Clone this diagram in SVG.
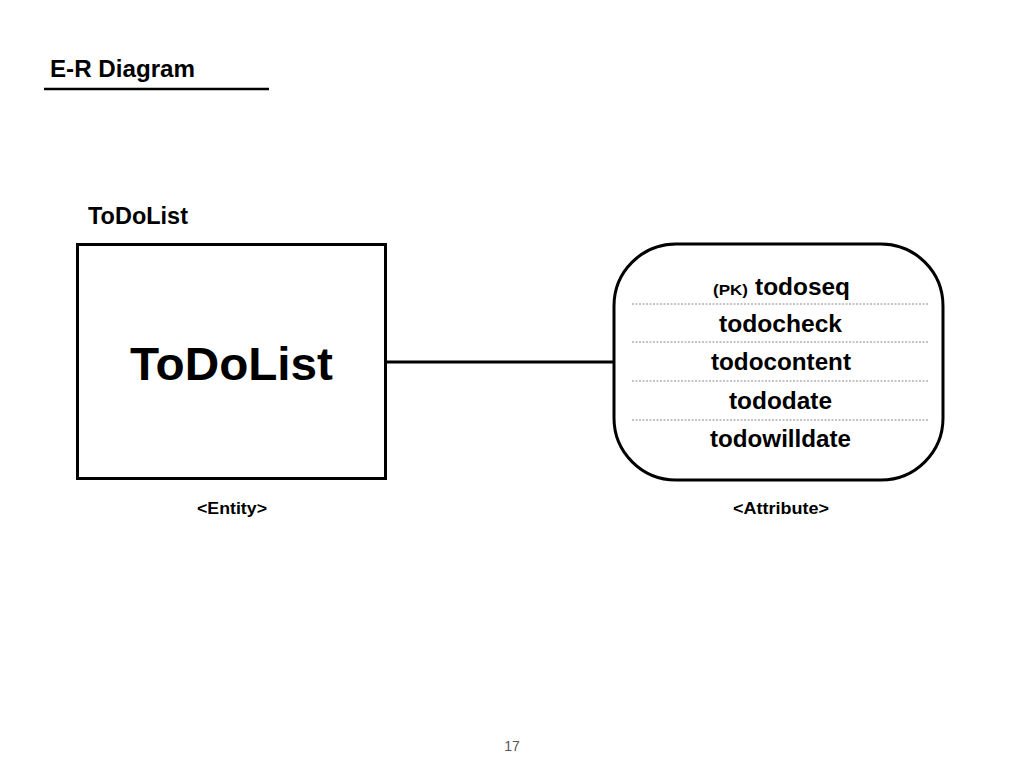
<svg xmlns="http://www.w3.org/2000/svg" width="1024" height="768" viewBox="0 0 1024 768">
<style>
text{font-family:"Liberation Sans",Arial,sans-serif;font-weight:bold;fill:#000}
.attr{font-size:23.5px;text-anchor:middle}
.sep{stroke:#888;stroke-width:1;stroke-dasharray:2 1.5}
.cap{font-size:17px;text-anchor:middle}
</style>
<rect width="1024" height="768" fill="#fff"/>
<g id="title">
<text x="50" y="77" font-size="23.5" textLength="145" lengthAdjust="spacingAndGlyphs">E-R Diagram</text>
<line x1="44" y1="89" x2="269" y2="89" stroke="#000" stroke-width="2.5"/>
</g>
<g id="entity">
<text x="88" y="224" font-size="23" textLength="100" lengthAdjust="spacingAndGlyphs">ToDoList</text>
<rect x="77.5" y="244.5" width="308" height="234" fill="#fff" stroke="#000" stroke-width="3"/>
<text x="231.5" y="380" font-size="47" text-anchor="middle" textLength="203" lengthAdjust="spacingAndGlyphs">ToDoList</text>
<text x="232" y="514" class="cap" textLength="70" lengthAdjust="spacingAndGlyphs">&lt;Entity&gt;</text>
</g>
<g id="connectors">
<line x1="386" y1="362" x2="614" y2="362" stroke="#000" stroke-width="3"/>
</g>
<g id="attribute">
<rect x="614" y="244" width="329" height="236" rx="62" ry="62" fill="#fff" stroke="#000" stroke-width="3"/>
<text x="713" y="295" font-size="15" textLength="35" lengthAdjust="spacingAndGlyphs">(PK)</text>
<text x="755" y="295" font-size="23.5" textLength="95" lengthAdjust="spacingAndGlyphs">todoseq</text>
<line x1="632" y1="304" x2="928" y2="304" class="sep"/>
<text x="780.5" y="332" class="attr" textLength="123" lengthAdjust="spacingAndGlyphs">todocheck</text>
<line x1="632" y1="342" x2="928" y2="342" class="sep"/>
<text x="781" y="370" class="attr" textLength="140" lengthAdjust="spacingAndGlyphs">todocontent</text>
<line x1="632" y1="381" x2="928" y2="381" class="sep"/>
<text x="780.5" y="409" class="attr" textLength="103" lengthAdjust="spacingAndGlyphs">tododate</text>
<line x1="632" y1="420" x2="928" y2="420" class="sep"/>
<text x="780.5" y="447" class="attr" textLength="141" lengthAdjust="spacingAndGlyphs">todowilldate</text>
<text x="781" y="514" class="cap" textLength="96" lengthAdjust="spacingAndGlyphs">&lt;Attribute&gt;</text>
</g>
<g id="page">
<text x="512" y="751" font-size="14" text-anchor="middle" style="font-weight:normal;fill:#555">17</text>
</g>
</svg>
